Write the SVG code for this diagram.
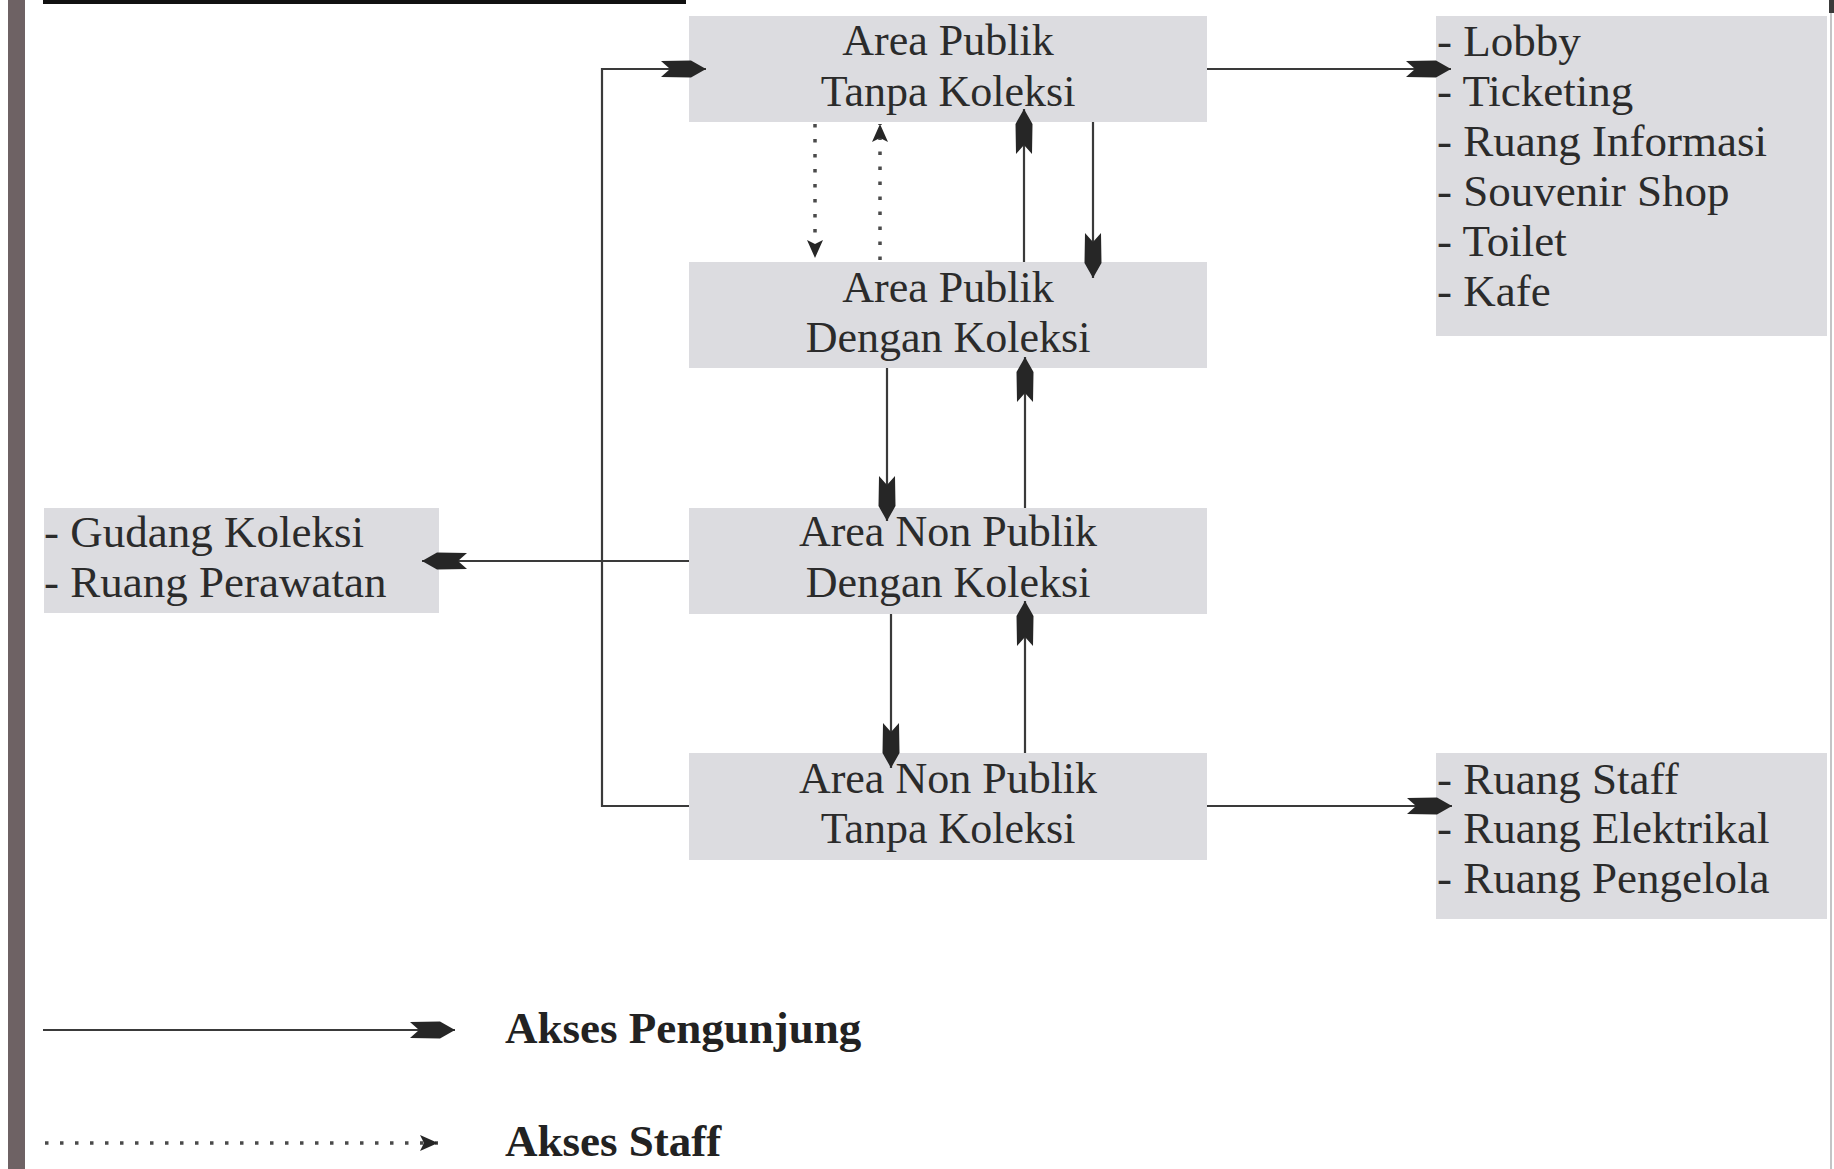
<svg xmlns="http://www.w3.org/2000/svg" width="1834" height="1169" viewBox="0 0 1834 1169">
  <style>
    .box { fill: #dcdce0; }
    .label { font-family: "Liberation Serif", "Times New Roman", serif; font-size: 44px; fill: #2b2b2b; text-anchor: middle; }
    .list { font-family: "Liberation Serif", "Times New Roman", serif; font-size: 45px; fill: #2b2b2b; }
    .legend { font-family: "Liberation Serif", "Times New Roman", serif; font-size: 45px; font-weight: bold; fill: #222; }
    .visit { fill: none; stroke: #3a3a3a; stroke-width: 2.2; marker-end: url(#dart); }
    .staff { fill: none; stroke: #4a4a4a; stroke-width: 3.5; stroke-dasharray: 3.5 11.5; marker-end: url(#dot-head); }
  </style>
  <defs>
    <!-- notched dart used on visitor routes -->
    <marker id="dart" markerUnits="userSpaceOnUse" viewBox="-48 -12 50 24" markerWidth="50" markerHeight="24" refX="0" refY="0" orient="auto">
      <path d="M0,0 L-15,-8.5 L-45,-8 L-36,0 L-45,8 L-15,8.5 Z" fill="#262626"/>
    </marker>
    <!-- small head used on staff routes -->
    <marker id="dot-head" markerUnits="userSpaceOnUse" viewBox="-22 -10 24 20" markerWidth="24" markerHeight="20" refX="0" refY="0" orient="auto">
      <path d="M0,0 L-18,-8 L-14,0 L-18,8 Z" fill="#262626"/>
    </marker>
  </defs>

  <rect width="1834" height="1169" fill="#ffffff"/>

  <!-- page frame fragments -->
  <rect x="8" y="0" width="17" height="1169" fill="#6e6264"/>
  <rect x="43" y="0" width="643" height="4" fill="#111"/>
  <rect x="1830" y="0" width="2" height="1169" fill="#c4c4c6"/>
  <rect x="1829" y="0" width="5" height="13" fill="#3a3a3a"/>

  <!-- nodes -->
  <g id="area-publik-tanpa-koleksi">
    <rect class="box" x="689" y="16" width="518" height="106"/>
    <text class="label" x="948" y="55">Area Publik</text>
    <text class="label" x="948" y="106">Tanpa Koleksi</text>
  </g>
  <g id="area-publik-dengan-koleksi">
    <rect class="box" x="689" y="262" width="518" height="106"/>
    <text class="label" x="948" y="302">Area Publik</text>
    <text class="label" x="948" y="352">Dengan Koleksi</text>
  </g>
  <g id="area-non-publik-dengan-koleksi">
    <rect class="box" x="689" y="508" width="518" height="106"/>
    <text class="label" x="948" y="546">Area Non Publik</text>
    <text class="label" x="948" y="597">Dengan Koleksi</text>
  </g>
  <g id="area-non-publik-tanpa-koleksi">
    <rect class="box" x="689" y="753" width="518" height="107"/>
    <text class="label" x="948" y="793">Area Non Publik</text>
    <text class="label" x="948" y="843">Tanpa Koleksi</text>
  </g>
  <g id="ruang-publik">
    <rect class="box" x="1436" y="16" width="391" height="320"/>
    <text class="list" x="1437" y="56">- Lobby</text>
    <text class="list" x="1437" y="106">- Ticketing</text>
    <text class="list" x="1437" y="156">- Ruang Informasi</text>
    <text class="list" x="1437" y="206">- Souvenir Shop</text>
    <text class="list" x="1437" y="256">- Toilet</text>
    <text class="list" x="1437" y="306">- Kafe</text>
  </g>
  <g id="ruang-servis">
    <rect class="box" x="1436" y="753" width="391" height="166"/>
    <text class="list" x="1437" y="794">- Ruang Staff</text>
    <text class="list" x="1437" y="843">- Ruang Elektrikal</text>
    <text class="list" x="1437" y="893">- Ruang Pengelola</text>
  </g>
  <g id="ruang-koleksi">
    <rect class="box" x="44" y="508" width="395" height="105"/>
    <text class="list" x="44" y="547">- Gudang Koleksi</text>
    <text class="list" x="44" y="597">- Ruang Perawatan</text>
  </g>

  <!-- connectors -->
  <g id="connectors">
    <path class="visit" d="M689,806 H602 V69 H706"/>
    <path class="visit" d="M1207,69 H1451"/>
    <path class="visit" d="M1207,806 H1452"/>
    <path class="visit" d="M689,561 H422"/>
    <path class="visit" d="M1093,122 V278"/>
    <path class="visit" d="M1024,262 V109"/>
    <path class="visit" d="M887,368 V521"/>
    <path class="visit" d="M1025,508 V357"/>
    <path class="visit" d="M891,614 V768"/>
    <path class="visit" d="M1025,753 V601"/>
    <path class="staff" d="M815,124 V258"/>
    <path class="staff" d="M880,260 V124"/>
  </g>

  <!-- legend -->
  <g id="legend">
    <path class="visit" d="M43,1030 H455"/>
    <text class="legend" x="505" y="1043">Akses Pengunjung</text>
    <path class="staff" d="M45,1143 H438"/>
    <text class="legend" x="505" y="1156">Akses Staff</text>
  </g>
</svg>
